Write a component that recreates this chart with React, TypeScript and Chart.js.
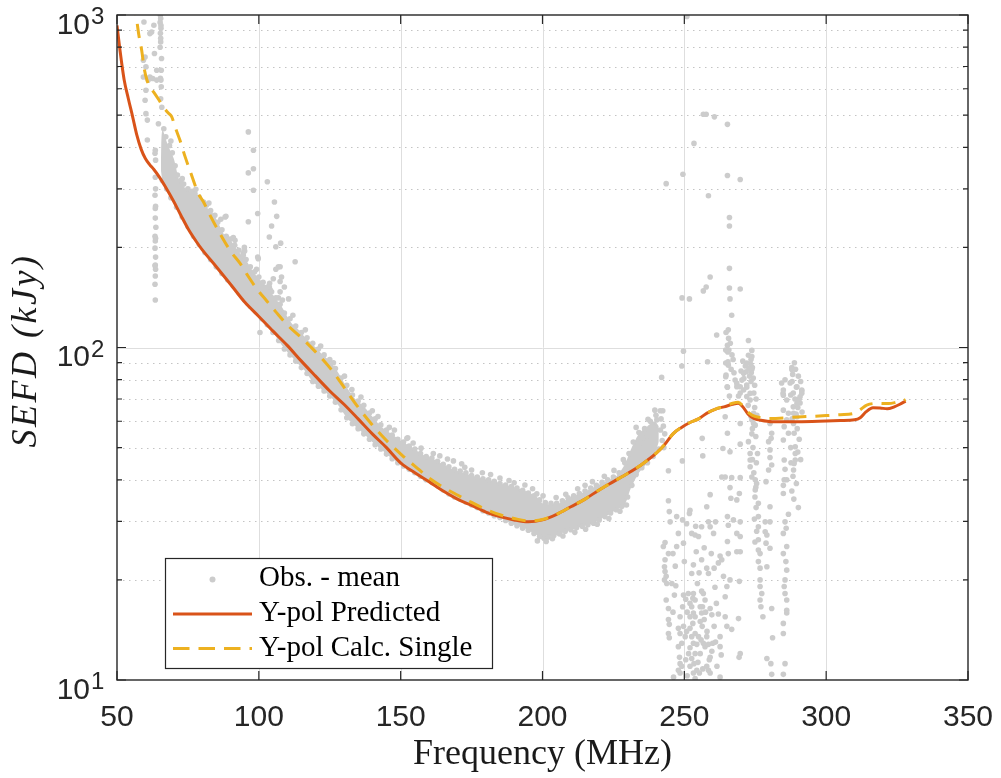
import React, { useEffect, useRef } from "react";
import { Chart, registerables } from "chart.js";

Chart.register(...registerables);

// ---- axis ticks ----
const xTicks = [50, 100, 150, 200, 250, 300, 350];
const xGridValues = [100, 150, 200, 250, 300];
const yMajorTicks = [10, 100, 1000];
const yExponents = ["1", "2", "3"];
const yGridMajor = [100];
const yMinorTicks = [20, 30, 40, 50, 60, 70, 80, 90, 200, 300, 400, 500, 600, 700, 800, 900];
const legendLabels = ["Obs. - mean", "Y-pol Predicted", "Y-pol Calc. Single"];
const xTitle = "Frequency (MHz)";
const yTitle = "SEFD (kJy)";

// ---- Y-pol Predicted ----
const predFreq = [50, 51, 52.5, 54, 55.5, 57, 58.5, 60, 61.5, 63, 65, 67, 70, 72.5, 75, 78, 80, 85, 90, 95, 100, 105, 110, 115, 120, 125, 130, 135, 140, 145, 150, 155, 160, 165, 170, 175, 180, 185, 190, 195, 200, 205, 210, 215, 220, 225, 230, 235, 240, 243, 246, 249, 252, 255, 258, 261, 264, 267, 269, 270.5, 272.5, 274.5, 277, 281, 290, 300, 305, 310, 312, 314, 316.5, 319, 321.5, 324, 326, 328];
const predVal = [930, 790, 640, 560, 495, 435, 395, 370, 355, 343, 325, 305, 275, 250, 228, 208, 197, 175, 155, 137, 124, 112, 101.5, 91, 82, 74, 67.5, 61, 55, 50, 45, 42, 39.5, 37, 35, 33.5, 32, 31, 30.3, 29.9, 30.3, 31.5, 33.2, 35, 37.3, 39.5, 41.8, 44.5, 48, 51, 55, 57.5, 59.5, 61, 63.5, 65.3, 66.3, 67.5, 68, 66.5, 63, 61.2, 60.4, 59.8, 59.8, 60.1, 60.3, 60.6, 61.5, 64, 65.9, 65.8, 65.4, 66.3, 67.5, 69];

// ---- Y-pol Calc. Single ----
const calcFreq = [55.8, 56.7, 57.7, 58.7, 59.6, 60.5, 61.6, 63, 64.5, 66.3, 68, 69.3, 70.5, 72.2, 74, 75.7, 78.7, 80.4, 83, 86.3, 90, 93.4, 96, 99.3, 102.8, 106, 110, 115, 120, 125, 130, 134.5, 140, 145, 151, 155, 160, 165, 170, 175, 180, 185, 190, 195, 200, 205, 210, 215, 220, 225, 230, 235, 240, 243, 246, 249, 252, 255, 258, 261, 264, 267, 269, 270.5, 272, 274, 277, 280, 290, 300, 305, 310, 312, 314.3, 318, 322, 325, 327.3, 328];
const calcVal = [1100, 1000, 870, 783, 690, 640, 608, 585, 560, 530, 508, 494, 460, 420, 375, 341, 290, 275, 248, 220, 195, 179, 165, 150, 138, 128, 117, 107, 97, 87, 76, 67, 58.5, 52.5, 47, 44, 40.5, 38, 36, 34.2, 32.6, 31.4, 30.6, 30.1, 30.4, 31.5, 33.2, 35, 37.3, 39.5, 41.8, 44.5, 48, 51, 55, 57.5, 59.5, 61, 63.5, 65.3, 66.5, 68, 68.5, 67, 64.5, 62.5, 61.5, 61.2, 61.8, 62.4, 62.8, 63.4, 65, 67.1, 67.9, 67.8, 68.5, 69.2, 69.8];

// ---- Obs. - mean: dense core of the observations (lower / upper envelope) ----
const bandFreq = [65.5, 66, 68, 70, 72, 74, 76, 78, 80, 82, 84, 86, 88, 90, 92, 94, 96, 98, 100, 102, 104, 106, 108, 110, 112, 114, 116, 118, 120, 122, 125, 128, 131, 134, 137, 140, 143, 146, 150, 154, 158, 162, 166, 170, 174, 178, 182, 186, 190, 194, 198, 200, 203, 206, 210, 214, 218, 222, 226, 229, 231, 234, 237, 239.5, 241];
const bandLow = [340, 320, 293, 272, 255, 238, 222, 209, 198, 188, 179, 171, 163, 156, 149, 142, 136, 130, 125, 119, 114, 108, 102, 97, 93, 89, 85.5, 81, 77.5, 75, 71.5, 67, 61.5, 58, 55, 52, 49.5, 47, 44.5, 42.5, 40.5, 38.8, 36.8, 35, 34, 32.5, 31.5, 30.5, 29.3, 28.5, 27.3, 26.8, 27, 27.5, 28.3, 29, 29.6, 31, 32.5, 33.8, 37.5, 42, 45, 48, 52];
const bandHigh = [360, 450, 405, 370, 318, 302, 294, 287, 275, 262, 252, 234, 217, 210, 199, 189, 180, 169, 161, 155, 147, 140, 133, 124, 117, 113, 108, 104, 100, 96, 91, 84, 76, 70, 66.5, 62, 58, 55.5, 52.5, 50, 47.5, 46, 44, 42.5, 41.5, 40.5, 39.8, 38.8, 38, 37, 35.5, 34, 33.8, 34, 35.5, 36.5, 38, 39.5, 41, 44.5, 49, 55, 58, 60, 58];

// ---- Obs. - mean: individual points [MHz, kJy] ----
const obsColumns = [
  [59.5, 953], [61.6, 879], [62.2, 889], [63, 931], [63.2, 766], [59.9, 748], [59.3, 731], [60.2, 698], [59.3, 651], [61, 637], [61.6, 651], [60.2, 594], [59.9, 554], [60.2, 505], [60.7, 483], [60.7, 421], [62.6, 644], [64, 637], [64.6, 471], [64, 682],
  [65.3, 998], [65.4, 976], [65.2, 950], [65.5, 912], [65.3, 881], [65.4, 851], [65.2, 800], [65.6, 682], [65.3, 645], [65.5, 637], [65.6, 608], [65.8, 528], [65.4, 560], [65.7, 740], [65.5, 930], [65.4, 830],
  [63.5, 392], [63.4, 384], [63.6, 366], [63.5, 325], [63.4, 287], [63.6, 266], [63.5, 262], [63.4, 216], [63.6, 213], [63.5, 209], [63.4, 199], [63.6, 187], [63.5, 177], [63.4, 176], [63.6, 172], [63.5, 164], [63.4, 155], [63.5, 139], [63.7, 230], [63.5, 245], [63.6, 300],
];
const obsOutliers = [
  [96.3, 445], [98.1, 392], [96.3, 335], [98.1, 345], [98.1, 297], [103, 315], [105.5, 274], [99.6, 253], [96.3, 239], [88.4, 248], [106.3, 248], [104.5, 232], [103.7, 215], [106, 201], [107.7, 206], [94.9, 200], [91.6, 210], [99.6, 187], [94.5, 192], [107.5, 175], [106, 172], [112.8, 181], [106.9, 175], [105.1, 161], [107.5, 158], [103.7, 152], [104, 149], [107.5, 147], [104.5, 141], [106.9, 141], [100.4, 111], [88.1, 247], [109, 152], [108, 163], [110.5, 140], [99.8, 185],
];
const obsUpperEdge = [
  [66.5, 455], [67.2, 430], [68.5, 405], [69.5, 385], [70.5, 352], [71.3, 330], [72.5, 318], [73.5, 310], [75, 300], [76.5, 295], [77.5, 290], [79, 283], [80.5, 274], [81.5, 268], [83, 258], [84.5, 250], [85.5, 238], [87, 226], [88.5, 216], [90, 212], [91.5, 203], [93, 196], [94.5, 189], [95.5, 184], [97, 175], [98.5, 169], [100, 163], [101.5, 157], [103, 152], [104.5, 147], [106, 141], [107.5, 135], [109, 127], [111, 122], [113, 116], [115, 111], [117, 107], [119, 103], [121, 99], [123, 95], [125, 92], [127, 86.5], [129, 81], [131, 77], [133, 72], [135, 69], [137, 67], [139, 63.5], [141, 61], [143, 58.5], [145, 56.5], [147, 54.5], [149, 53], [151, 52], [153, 50.5], [155, 49.5], [157, 48], [159, 47], [161, 46.5], [163, 45.5], [165, 44.5], [167, 43.8], [169, 43], [171, 42.5], [173, 42], [175, 41.2], [177, 40.8], [179, 40.3], [181, 40], [183, 39.6], [185, 39], [187, 38.6], [189, 38.2], [191, 37.8], [193, 37.2], [195, 36.5], [197, 35.8], [199, 34.8], [201, 34.2], [203, 34], [205, 34], [207, 34.6], [209, 35.3], [211, 35.8], [213, 36.4], [215, 37], [217, 37.8], [219, 38.5], [221, 39.3], [223, 40], [225, 40.8], [227, 42], [229, 45], [230.5, 48], [232, 52], [234, 55.5], [236, 57], [238, 60], [240, 62.5], [241.5, 64.5],
];
const obsUpperScatter = [
  [69, 418], [73, 322], [77.8, 299], [82.4, 272], [86.6, 243], [91, 214], [95, 195], [99.2, 172], [103.8, 156], [108.3, 139], [112, 125], [116.4, 113], [121.8, 101], [126.3, 90], [130.2, 82], [136, 71], [142, 62], [147.8, 56.5], [152.5, 53.5], [157.2, 49.8], [163.8, 47.2], [166.5, 46.2], [172.6, 43.6], [178.8, 42], [181.7, 41.5], [188.2, 39.8], [193.8, 38.6], [196.5, 37.6], [200.2, 35.8], [204.8, 35.4], [208.2, 36.2], [212.4, 37.6], [217.6, 39.5], [221.8, 41], [225.2, 42.7], [233, 57.5], [237.2, 60.8], [239.6, 64.8],
  [241.8, 61], [242.6, 58], [243.1, 55], [242.2, 52.5], [242.8, 50], [241.6, 56.5],
];
const obsLowerEdge = [
  [66, 318], [67.5, 300], [69, 282], [71, 264], [73, 247], [75, 231], [77, 216], [79, 204], [81, 193], [83, 184], [85, 175], [87, 167], [89, 160], [91, 153], [93, 146], [95, 139], [97, 133], [99, 128], [101, 122], [103, 117], [105, 111], [107, 105], [109, 99], [111, 95], [113, 91], [115, 87], [117, 83.5], [119, 79], [121, 76.5], [123, 74], [125, 71.5], [127, 68.5], [129, 65], [131, 61.5], [133, 59], [135, 57], [137, 55], [139, 53], [141, 51], [143, 49.5], [145, 47.8], [147, 46.3], [149, 45], [151, 44], [153, 43], [155, 42], [157, 41], [159, 40], [161, 39.3], [163, 38.3], [165, 37.3], [167, 36.3], [169, 35.5], [171, 35], [173, 34.3], [175, 33.6], [177, 33], [179, 32.3], [181, 31.8], [183, 31.2], [185, 30.8], [187, 30.2], [189, 29.6], [191, 29.1], [193, 28.6], [195, 28.2], [197, 27.6], [199, 27], [200.5, 26.7], [202, 26.9], [204, 27.2], [206, 27.5], [208, 28], [210, 28.3], [212, 28.7], [214, 29], [216, 29.3], [218, 29.6], [220, 30.3], [222, 31], [224, 31.8], [226, 32.5], [228, 33.3], [230, 35.5], [231.5, 38.5], [233, 41.5], [235, 43.5], [237, 45], [239, 47], [241, 49.5],
  [198.2, 26.2], [201.3, 26.1], [203.5, 26.6], [207.2, 27.1], [211.4, 27.8], [215.2, 28.4], [219.3, 29.4], [223.4, 30.6], [227.3, 32.2], [229.6, 33.6],
];
const obsMid = [
  [132.8, 74.8], [120.2, 98.2], [124, 89.5], [171.5, 44.7], [161.5, 48], [154.4, 51.6], [152.2, 53.3], [168.6, 45.6], [175, 42.8], [185, 40.5], [190, 39.2], [140, 64.5], [146, 57.5], [198, 36.3], [215, 38.5], [228.5, 46], [236.8, 53.9], [235.6, 51.5], [239.1, 57.8], [240.3, 60.6], [242.4, 64.5],
];
const obsRfiHigh = [
  [250.9, 990], [256.7, 503], [257.7, 503], [260.6, 494], [265.2, 469], [253.4, 411], [243.6, 311], [249.5, 332], [265.2, 329], [269.7, 320], [258.5, 286], [265.9, 246], [265.9, 232], [265.9, 173], [259.1, 163], [257.7, 152], [256.7, 148], [265.9, 151], [269.7, 150], [266.1, 140], [249.2, 141], [251.8, 140], [266.7, 125], [261.4, 109], [264.7, 111], [265.5, 113], [265.6, 106.5], [265.2, 101.6], [265.7, 98.2], [265.3, 97], [265.4, 90.6], [265.5, 88.5], [272.6, 105], [249.7, 97.5], [249.1, 88], [258.2, 90.6], [242, 81.3], [264.7, 82.6], [265.1, 76.2], [265.9, 71.5], [272.6, 94.8], [273.8, 98], [273.4, 89], [273.6, 84], [273.5, 79], [271, 80.7], [270, 85], [272, 76], [274.5, 73], [287.9, 87], [288.2, 83], [288, 79], [285.5, 80], [284.8, 72.8], [287.5, 72], [291.4, 74], [290.5, 70], [289.5, 76],
  [264.6, 98.2], [264.6, 89.8], [264.6, 81.7], [267.9, 79.8], [268.5, 76.2], [269.7, 73], [272, 71.2], [273.2, 69.5], [273.8, 93.9], [273.8, 85.9], [272, 89.8], [270.3, 79.8], [270.9, 83.7], [268.5, 78], [269.7, 76.2], [270.9, 74.5], [272, 77.1], [273.2, 72.8], [273.8, 60.6], [275, 58.4], [274.4, 63.4], [273.5, 92], [274, 87], [273, 82], [271.5, 88], [272.5, 67], [274.8, 66], [273.5, 62], [274, 57], [273.8, 55], [274.2, 50], [274, 46], [274.5, 42], [275, 40], [275.2, 38],
  [287.9, 85.9], [287.3, 78.2], [288.4, 73], [291.4, 74.5], [290.8, 68.1], [288.4, 66.3], [289.4, 63.1], [286.1, 69.5], [284.9, 64.8], [284.9, 74.5], [284.3, 78.2],
  [288.8, 90], [289.2, 86], [290.2, 82], [291, 79], [289, 70], [290, 66], [291.5, 64], [288, 61], [289.8, 57], [290.5, 53], [287.5, 50], [290, 48.5], [291, 46], [287.6, 45], [288.3, 41], [289.5, 39], [287.9, 37], [288.6, 35], [290.2, 33],
  [266.2, 103], [266.8, 95], [267.2, 92], [266.5, 86], [267.5, 84], [270.6, 91], [271.8, 84.5], [272.8, 86.5], [274.3, 81], [274.8, 77], [275.3, 70], [275.6, 62.5], [275.2, 54], [275.8, 48], [275.4, 45], [274.9, 35.5], [275.3, 33], [274.7, 30.5], [275.5, 28], [274.9, 26],
];
const obsRfiLow = [
  [244.4, 34.6], [244.7, 32.1], [245, 29.9], [243.2, 25.9], [242.6, 25.2], [244.4, 24], [243.2, 23], [243, 21.9], [243.2, 21.2], [243.6, 20.5], [243, 20], [243.8, 19.5], [245.6, 19.5], [243.6, 17.4], [244.4, 16.4], [244.4, 15.2], [244.7, 14.7], [244.4, 13.8], [244.7, 13.4], [244.4, 42.6],
  [247.3, 31], [249.4, 30.3], [247.9, 27.6], [249.7, 25.8], [247.3, 25.2], [250, 22.7], [249.7, 18], [249.4, 16.6], [248.5, 15.5], [247.9, 14.3], [248.5, 13.8], [249.1, 12.9], [247.9, 12.6], [248.3, 11.7], [248.5, 11.2], [249.1, 11], [247.9, 10.7], [248.5, 10.5], [246.2, 10.2], [249.7, 14.5], [250.3, 13.5], [249.3, 45.6],
  [252, 32.4], [251.8, 31.7], [252.6, 27.6], [253.8, 27.3], [254.2, 24.3], [253.2, 22.2], [252.6, 20.9], [251.4, 18.2], [253.2, 18.2], [253, 17.6], [253.8, 17.4], [252, 17], [252.6, 16.6], [253.2, 15.9], [252, 15.5], [253.8, 15.5], [253, 14.8], [252, 14.3], [253.8, 13.8], [252.6, 13.5], [253.2, 12.9], [254.4, 12.8], [252, 12.5], [253.8, 12], [252.6, 11.6], [253.4, 11.2], [252, 11], [254.4, 10.7], [253.2, 10.5], [253.8, 10.1],
  [256.1, 28.9], [256.1, 23], [256.1, 18.5], [255.6, 16.6], [256.1, 15.9], [255, 13.5], [255.9, 13.2], [256.7, 12.9], [257.3, 12.6], [257.9, 11], [258.5, 10.7], [259.1, 10.5], [259.1, 11.7], [255.6, 12], [256.3, 14.5], [257.9, 13.5], [259.7, 15.7], [259.1, 16.4], [258.5, 20.9], [257.9, 21.7], [258.5, 29.9], [259.1, 28.9], [260.3, 27.6], [256.7, 18.2], [257.3, 17.4], [256.4, 16.6], [255.6, 15], [258.5, 12.8], [260, 12.9], [259.7, 12.2], [258.8, 11.5], [260.5, 21.7], [261, 29.9], [257.9, 33.2], [256.5, 47.2], [256.3, 53.3], [259.1, 36.1],
  [262.6, 23.6], [263.2, 23], [263.8, 20.5], [265, 19.1], [264.4, 17.8], [264.4, 15.5], [265, 14.5], [266.7, 14.2], [262.6, 13.5], [262.6, 12.6], [263, 11.9], [262.6, 10.2], [265.5, 24], [265.2, 26.1], [265.2, 31], [265.5, 29.2], [266.1, 20], [263.6, 49.7], [266.1, 48.6], [263.2, 40.8], [264.4, 40.8], [266.7, 40.6], [266.1, 37.9], [269.7, 40.6], [269.4, 36.4], [266.4, 35.2], [268.5, 34.8], [267.3, 30.3], [269.7, 29.9], [268.5, 27.6], [269.7, 27], [268.5, 24.3], [269.7, 24.3], [269.4, 19.8], [269.1, 15.3], [269.7, 12], [269.3, 11.7], [265.2, 55.2], [264.4, 61.9], [265.2, 75.9], [269.1, 71.5], [269.7, 59.1], [269.7, 51.2],
  [272.6, 52.1], [273.2, 48], [273.2, 45.9], [273.2, 43.8], [273.8, 40.8], [274.4, 59.1], [275, 37.3], [275.5, 39], [276.1, 34], [276.1, 31], [276.1, 28.9], [276.1, 26.4], [276.1, 24.6], [276.7, 24], [276.1, 22.7], [276.7, 21.7], [276.7, 20], [276.7, 19.1], [277.3, 18.2], [276.7, 17.4], [277, 16.6], [277.7, 15.5], [279.1, 21.9], [278.5, 27.9], [279.1, 27.3], [278.8, 25.8], [280.2, 24.9], [278.5, 29.9], [280.2, 29.9], [280.2, 33.2], [279.7, 42.8], [280.8, 44.3], [280.2, 46.7], [280.2, 49.2], [279.7, 52.1], [280.6, 53.3], [280.8, 55.2], [280.2, 59.1], [278.8, 39.5], [280.8, 16.4], [281.1, 13.4], [279.1, 11.6], [280.5, 11.2], [280.8, 10.4],
  [284.9, 10.4], [285.5, 11.2], [284.9, 13.8], [284.9, 14.8], [286.1, 15.9], [286.1, 16.2], [286.1, 17.4], [285.5, 18.2], [285.2, 19.1], [285.5, 20], [286.1, 21.4], [285.8, 22.7], [284.9, 24], [286.1, 25.2], [284.9, 27.6], [285.9, 28.6], [285.5, 29.9], [286.7, 31.5], [284.9, 36.4], [284.9, 38.5], [285.2, 40], [285.5, 43], [285.2, 45.9], [286.1, 40], [286.7, 55.2], [284.9, 52.7], [285.2, 57.8], [286.1, 60.6], [286.7, 63.4], [284.9, 71.9], [289.7, 67.9], [288.5, 63.4], [288.5, 59.1], [288.7, 55.2], [289.1, 50.3], [289.1, 45.9], [289.1, 48], [288.5, 42.8], [288.7, 44.8], [291.4, 72.8], [289.7, 76.2], [290.8, 71.1], [289.7, 61.9],
  [246.5, 18], [246, 16], [247, 19.2], [250.5, 17.5], [251, 16], [250.8, 14], [251.5, 12], [250.5, 11.5], [251, 10.3], [254.8, 11.3], [255.3, 10.5], [256.5, 10.8], [257, 15.2], [257.5, 16], [258, 14], [260.5, 14.5], [261, 13], [261.5, 11], [262, 15.8], [261.3, 17], [246.8, 22], [246, 24], [254.6, 19.5], [255.2, 21], [254, 29], [250.8, 29.5], [260.8, 19], [262, 22.5], [257, 25], [255, 27], [259.5, 24],
];

const RED = "#D95319";
const YELLOW = "#EDB120";
const GRAY = "#cccccc";
const AXIS = "#262626";
const SANS = '"Liberation Sans", Arial, Helvetica, sans-serif';
const SERIF = '"Liberation Serif", "Times New Roman", serif';

const framePlugin = {
  id: "matlabFrame",
  beforeDatasetsDraw(chart: any) {
    const { ctx, chartArea: a, scales } = chart;
    const x = scales.x, y = scales.y;
    ctx.save();
    ctx.beginPath();
    ctx.rect(a.left, a.top, a.right - a.left, a.bottom - a.top);
    ctx.clip();
    ctx.lineWidth = 1;
    ctx.strokeStyle = "#c4c4c4";
    ctx.setLineDash([1.5, 4.5]);
    for (const v of yMinorTicks) {
      const py = Math.round(y.getPixelForValue(v)) + 0.5;
      ctx.beginPath(); ctx.moveTo(a.left, py); ctx.lineTo(a.right, py); ctx.stroke();
    }
    ctx.setLineDash([]);
    ctx.strokeStyle = "#dedede";
    for (const v of xGridValues) {
      const px = Math.round(x.getPixelForValue(v)) + 0.5;
      ctx.beginPath(); ctx.moveTo(px, a.top); ctx.lineTo(px, a.bottom); ctx.stroke();
    }
    for (const v of yGridMajor) {
      const py = Math.round(y.getPixelForValue(v)) + 0.5;
      ctx.beginPath(); ctx.moveTo(a.left, py); ctx.lineTo(a.right, py); ctx.stroke();
    }
    ctx.restore();
  },
  afterDatasetsDraw(chart: any) {
    const { ctx, chartArea: a, scales } = chart;
    const x = scales.x, y = scales.y;
    ctx.save();
    ctx.strokeStyle = AXIS;
    ctx.lineWidth = 1.4;
    ctx.strokeRect(a.left, a.top, a.right - a.left, a.bottom - a.top);
    ctx.lineWidth = 1.2;
    ctx.beginPath();
    for (const v of xTicks) {
      const px = x.getPixelForValue(v);
      ctx.moveTo(px, a.bottom); ctx.lineTo(px, a.bottom - 9);
      ctx.moveTo(px, a.top); ctx.lineTo(px, a.top + 9);
    }
    for (const v of yMajorTicks) {
      const py = y.getPixelForValue(v);
      ctx.moveTo(a.left, py); ctx.lineTo(a.left + 9, py);
      ctx.moveTo(a.right, py); ctx.lineTo(a.right - 9, py);
    }
    for (const v of yMinorTicks) {
      const py = y.getPixelForValue(v);
      ctx.moveTo(a.left, py); ctx.lineTo(a.left + 5, py);
      ctx.moveTo(a.right, py); ctx.lineTo(a.right - 5, py);
    }
    ctx.stroke();
    ctx.fillStyle = AXIS;
    ctx.font = `30px ${SANS}`;
    ctx.textAlign = "center";
    ctx.textBaseline = "alphabetic";
    for (const v of xTicks) {
      ctx.fillText(String(v), x.getPixelForValue(v), a.bottom + 46);
    }
    yMajorTicks.forEach((v, i) => {
      const py = y.getPixelForValue(v);
      ctx.font = `30px ${SANS}`;
      ctx.textAlign = "right";
      ctx.fillText("10", a.left - 27, py + 18.5);
      ctx.font = `24px ${SANS}`;
      ctx.textAlign = "left";
      ctx.fillText(yExponents[i], a.left - 26, py + 9);
    });
    ctx.fillStyle = "#1a1a1a";
    ctx.font = `36px ${SERIF}`;
    ctx.textAlign = "center";
    ctx.fillText(xTitle, (a.left + a.right) / 2, a.bottom + 84);
    ctx.save();
    ctx.translate(36, (a.top + a.bottom) / 2 + 3);
    ctx.rotate(-Math.PI / 2);
    ctx.font = `italic 36px ${SERIF}`;
    try { (ctx as any).letterSpacing = "2.5px"; } catch (e) {}
    ctx.fillText(yTitle, 0, 0);
    ctx.restore();
    ctx.restore();
  },
  afterDraw(chart: any) {
    const { ctx, chartArea: a } = chart;
    const bx = a.left + 48.5, by = a.top + 543.5, bw = 327, bh = 110;
    ctx.save();
    ctx.fillStyle = "#ffffff";
    ctx.fillRect(bx, by, bw, bh);
    ctx.strokeStyle = AXIS;
    ctx.lineWidth = 1.2;
    ctx.strokeRect(bx, by, bw, bh);
    ctx.fillStyle = GRAY;
    ctx.beginPath(); ctx.arc(bx + 47, by + 21, 3, 0, Math.PI * 2); ctx.fill();
    ctx.lineWidth = 3;
    ctx.strokeStyle = RED;
    ctx.beginPath(); ctx.moveTo(bx + 7.5, by + 55.5); ctx.lineTo(bx + 86.5, by + 55.5); ctx.stroke();
    ctx.strokeStyle = YELLOW;
    ctx.setLineDash([16.5, 9]);
    ctx.beginPath(); ctx.moveTo(bx + 7.5, by + 90); ctx.lineTo(bx + 86.5, by + 90); ctx.stroke();
    ctx.setLineDash([]);
    ctx.fillStyle = "#000000";
    ctx.font = `29px ${SERIF}`;
    ctx.textAlign = "left";
    ctx.textBaseline = "alphabetic";
    legendLabels.forEach((t, i) => {
      ctx.fillText(t, bx + 93.5, by + 27.5 + i * 35);
    });
    ctx.restore();
  },
};

export default function App() {
  const ref = useRef<HTMLCanvasElement>(null);
  useEffect(() => {
    const canvas = ref.current;
    if (!canvas) return;
    const toXY = (fs: number[], vs: number[]) => fs.map((f, i) => ({ x: f, y: vs[i] }));
    const obsPoints = [
      ...obsColumns, ...obsOutliers, ...obsUpperEdge, ...obsUpperScatter, ...obsLowerEdge, ...obsMid, ...obsRfiHigh, ...obsRfiLow,
    ].map(([f, v]) => ({ x: f, y: v }));
    const chart = new Chart(canvas, {
      type: "line",
      data: {
        datasets: [
          {
            label: legendLabels[2], data: toXY(calcFreq, calcVal), borderColor: YELLOW, borderWidth: 3,
            borderDash: [14, 9], pointRadius: 0, fill: false, cubicInterpolationMode: "monotone", order: 0, clip: 0,
          },
          {
            label: legendLabels[1], data: toXY(predFreq, predVal), borderColor: RED, borderWidth: 3,
            pointRadius: 0, fill: false, cubicInterpolationMode: "monotone", order: 1, clip: 0,
          },
          {
            type: "scatter", label: legendLabels[0], data: obsPoints, pointRadius: 2.8, pointBorderWidth: 0,
            pointBackgroundColor: GRAY, backgroundColor: GRAY, borderColor: GRAY, showLine: false, order: 2,
          },
          {
            label: "obs-core-low", data: toXY(bandFreq, bandLow), borderColor: "rgba(0,0,0,0)", borderWidth: 0,
            pointRadius: 0, fill: false, tension: 0.3, order: 3, clip: 0,
          },
          {
            label: "obs-core-high", data: toXY(bandFreq, bandHigh), borderColor: "rgba(0,0,0,0)", borderWidth: 0,
            backgroundColor: GRAY, pointRadius: 0, fill: "-1", tension: 0.3, order: 4, clip: 0,
          },
        ] as any,
      },
      options: {
        responsive: false,
        animation: false,
        devicePixelRatio: 1,
        events: [],
        layout: { padding: { left: 0, right: 33, top: 15, bottom: 0 }, autoPadding: false } as any,
        plugins: { legend: { display: false }, tooltip: { enabled: false }, title: { display: false } },
        scales: {
          x: {
            type: "linear", min: 50, max: 350,
            grid: { display: false }, border: { display: false }, ticks: { display: false },
            afterFit: (s: any) => { s.height = 98; },
          },
          y: {
            type: "logarithmic", min: 10, max: 1000,
            grid: { display: false }, border: { display: false }, ticks: { display: false },
            afterFit: (s: any) => { s.width = 117; },
          },
        },
      } as any,
      plugins: [framePlugin],
    });
    return () => chart.destroy();
  }, []);
  return (
    <div style={{ position: "absolute", left: 0, top: 0, width: 1001, height: 778, background: "#fff" }}>
      <canvas ref={ref} width={1001} height={778} style={{ display: "block", width: 1001, height: 778 }} />
    </div>
  );
}
